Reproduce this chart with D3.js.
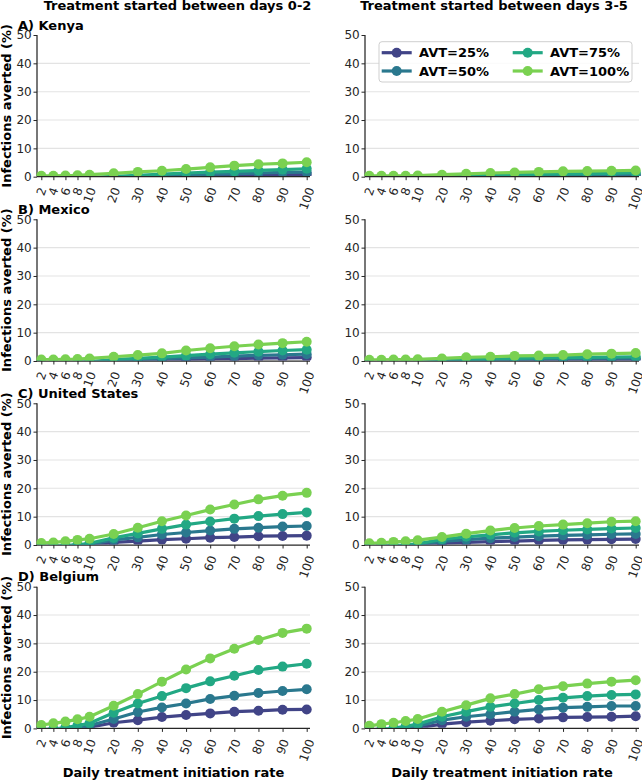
<!DOCTYPE html>
<html><head><meta charset="utf-8">
<script src="https://cdn.jsdelivr.net/npm/d3@7"></script>
<style>body{margin:0;background:#fff} text{font-family:"DejaVu Sans",sans-serif}</style>
</head><body><svg id="c" width="642" height="780"></svg>
<script>
const rates = [2,4,6,8,10,20,30,40,50,60,70,80,90,100];
const avtLabels = ["AVT=25%","AVT=50%","AVT=75%","AVT=100%"];
const avtColors = ["#414487","#2a788e","#22a884","#7ad151"];
const countryLabels = ["A) Kenya","B) Mexico","C) United States","D) Belgium"];
const windowTitles = ["Treatment started between days 0-2","Treatment started between days 3-5"];
const yTickValues = [0,10,20,30,40,50];
const gridValues = [10,20,30,40];
const xLabel = "Daily treatment initiation rate";
const yLabel = "Infections averted (%)";

// each panel: [AVT=25%, AVT=50%, AVT=75%, AVT=100%]
const kenyaDays02 = [
  [-0.8,-0.8,-0.7,-0.7,-0.6,-0.2,0.0,0.2,0.3,0.4,0.5,0.6,0.7,0.8],
  [-0.7,-0.7,-0.6,-0.6,-0.5,-0.1,0.2,0.5,0.7,0.9,1.1,1.3,1.5,1.6],
  [-0.6,-0.6,-0.5,-0.4,-0.3,0.1,0.5,0.9,1.3,1.6,1.9,2.2,2.5,2.8],
  [0.3,0.3,0.4,0.5,0.7,1.2,1.7,2.1,2.7,3.3,3.9,4.4,4.7,5.1]
];
const kenyaDays35 = [
  [-0.8,-0.8,-0.8,-0.7,-0.7,-0.4,-0.2,0.0,0.1,0.2,0.3,0.3,0.4,0.4],
  [-0.7,-0.7,-0.7,-0.6,-0.6,-0.3,0.0,0.2,0.4,0.5,0.6,0.7,0.8,0.9],
  [-0.6,-0.6,-0.6,-0.5,-0.5,-0.1,0.2,0.5,0.7,0.9,1.0,1.1,1.2,1.4],
  [0.3,0.3,0.3,0.3,0.4,0.7,1.0,1.3,1.5,1.7,1.9,2.0,2.1,2.2]
];
const mexicoDays02 = [
  [-0.8,-0.8,-0.7,-0.7,-0.6,-0.1,0.2,0.4,0.5,0.7,0.8,1.0,1.1,1.2],
  [-0.7,-0.7,-0.6,-0.6,-0.5,0.1,0.5,0.8,1.1,1.4,1.7,2.0,2.2,2.4],
  [-0.6,-0.6,-0.5,-0.4,-0.2,0.5,0.9,1.4,1.9,2.4,2.9,3.3,3.7,4.0],
  [0.5,0.5,0.6,0.7,0.9,1.5,2.1,2.7,3.7,4.5,5.2,5.8,6.3,6.8]
];
const mexicoDays35 = [
  [-0.8,-0.8,-0.8,-0.7,-0.7,-0.3,-0.1,0.1,0.2,0.3,0.3,0.4,0.5,0.5],
  [-0.7,-0.7,-0.7,-0.6,-0.6,-0.2,0.1,0.4,0.5,0.7,0.8,0.9,1.0,1.0],
  [-0.6,-0.6,-0.6,-0.5,-0.4,0.0,0.4,0.7,0.9,1.1,1.2,1.3,1.4,1.5],
  [0.4,0.4,0.5,0.5,0.6,0.9,1.3,1.5,1.8,1.9,2.1,2.4,2.6,2.8]
];
const usDays02 = [
  [-0.7,-0.6,-0.5,-0.4,-0.2,0.9,1.4,1.9,2.2,2.6,2.8,3.1,3.2,3.3],
  [-0.6,-0.5,-0.4,-0.2,0.2,1.8,2.7,3.7,4.4,5.1,5.7,6.1,6.5,6.7],
  [-0.5,-0.4,-0.2,0.1,0.6,2.5,4.1,5.7,7.2,8.3,9.3,10.2,10.9,11.5],
  [0.7,0.9,1.3,1.8,2.2,3.9,6.1,8.4,10.4,12.5,14.3,16.1,17.4,18.4]
];
const usDays35 = [
  [-0.7,-0.6,-0.5,-0.4,-0.2,0.6,0.9,1.2,1.4,1.6,1.8,1.9,2.0,2.1],
  [-0.6,-0.5,-0.4,-0.2,0.1,1.3,1.9,2.4,2.8,3.1,3.4,3.6,3.8,3.9],
  [-0.5,-0.4,-0.2,0.0,0.4,2.0,2.9,3.6,4.3,4.8,5.2,5.5,5.8,6.0],
  [0.6,0.8,1.1,1.3,1.7,2.8,4.0,5.1,6.0,6.7,7.2,7.7,8.2,8.4]
];
const belgiumDays02 = [
  [-0.7,-0.5,-0.3,0.0,0.4,2.0,2.9,4.0,4.7,5.3,5.9,6.2,6.6,6.7],
  [-0.6,-0.4,-0.1,0.4,1.0,3.3,5.8,7.4,8.8,10.4,11.5,12.5,13.2,13.8],
  [-0.5,-0.2,0.3,1.0,1.8,5.5,8.8,11.4,14.2,16.6,18.6,20.6,21.8,22.8],
  [1.2,1.8,2.4,3.2,4.1,8.0,12.1,16.5,20.8,24.7,28.1,31.2,33.7,35.2]
];
const belgiumDays35 = [
  [-0.7,-0.6,-0.4,-0.2,0.2,1.5,2.2,2.7,3.2,3.5,3.9,4.0,4.1,4.3],
  [-0.6,-0.4,-0.2,0.2,0.8,2.9,4.1,5.0,5.9,6.7,7.3,7.6,7.9,7.9],
  [-0.5,-0.3,0.1,0.7,1.5,4.1,5.9,7.6,8.8,10.0,10.8,11.4,11.8,12.0],
  [0.9,1.5,2.0,2.6,3.3,5.9,8.2,10.6,12.1,13.8,14.9,15.8,16.5,17.0]
];
const panelData = [
  [kenyaDays02, kenyaDays35],
  [mexicoDays02, mexicoDays35],
  [usDays02, usDays35],
  [belgiumDays02, belgiumDays35]
];

// layout
const cols = [{left:37, right:310, titleX:177.5}, {left:365, right:639, titleX:494}];
const rowTops = [35, 219.3, 403.3, 586.7];
const ph = 141.7;
const ink = "#262626";

const svg = d3.select("#c");
const defs = svg.append("defs");

windowTitles.forEach((t,i) => {
  svg.append("text").attr("x", cols[i].titleX).attr("y", 10.3)
    .attr("text-anchor","middle").attr("font-size",13).attr("font-weight","bold")
    .attr("fill","#000").text(t);
});

rowTops.forEach((top, r) => {
  cols.forEach((col, c) => {
    const left = col.left, right = col.right;
    const x0 = left + 4.3, x1 = right - 3.3;
    const u = (x1 - x0) / 11;
    const x = d3.scaleLinear().domain([2,10,100]).range([x0, x0 + 2*u, x1]);
    const y = d3.scaleLinear().domain([0,50]).range([top + ph, top]);
    const g = svg.append("g");

    // grid
    g.selectAll("line.grid").data(gridValues).join("line")
      .attr("x1", left).attr("x2", right)
      .attr("y1", d => y(d)).attr("y2", d => y(d))
      .attr("stroke", "#e3e3e3").attr("stroke-width", 1.1);

    // y axis
    const ya = g.append("g").attr("transform", `translate(${left},0)`)
      .call(d3.axisLeft(y).tickValues(yTickValues).tickSize(3.5).tickSizeOuter(0).tickPadding(1.8));
    ya.select(".domain").remove();
    ya.selectAll(".tick line").attr("stroke", ink).attr("stroke-width", 1);
    ya.selectAll(".tick text").attr("font-size", 12).attr("fill", ink)
      .style("font-family", '"DejaVu Sans",sans-serif');

    // x axis
    const xa = g.append("g").attr("transform", `translate(0,${top + ph})`)
      .call(d3.axisBottom(x).tickValues(rates).tickFormat(d3.format("d")).tickSize(3.5).tickSizeOuter(0));
    xa.select(".domain").remove();
    xa.selectAll(".tick line").attr("stroke", ink).attr("stroke-width", 1);
    const h = 8.75;
    xa.selectAll(".tick text").attr("font-size", 12).attr("fill", ink)
      .style("font-family", '"DejaVu Sans",sans-serif')
      .attr("y", null).attr("dy", null).attr("text-anchor", "end")
      .attr("transform", function() {
        const L = this.getComputedTextLength();
        const ax = 0.17 * L + 0.47 * h - 0.6;
        return `translate(${ax},12.6) rotate(-70)`;
      });

    // spines
    g.append("line").attr("x1", left).attr("x2", left).attr("y1", top).attr("y2", top + ph)
      .attr("stroke", ink).attr("stroke-width", 1.25);
    g.append("line").attr("x1", left).attr("x2", right).attr("y1", top + ph).attr("y2", top + ph)
      .attr("stroke", ink).attr("stroke-width", 1.25);

    // clip
    const cid = `clip-${r}-${c}`;
    defs.append("clipPath").attr("id", cid).append("rect")
      .attr("x", left - 20).attr("y", top - 20).attr("width", right - left + 40).attr("height", ph + 20 - 0.6);

    const series = panelData[r][c];
    const plot = g.append("g").attr("clip-path", `url(#${cid})`);
    const line = d3.line().x((d,i) => x(rates[i])).y(d => y(d));
    series.forEach((vals, s) => {
      const sg = plot.append("g");
      sg.append("path").attr("d", line(vals)).attr("fill","none")
        .attr("stroke", avtColors[s]).attr("stroke-width", 3.2).attr("stroke-linejoin","round");
      sg.selectAll("circle").data(vals).join("circle")
        .attr("cx", (d,i) => x(rates[i])).attr("cy", d => y(d)).attr("r", 5)
        .attr("fill", avtColors[s]);
    });

    // panel label
    if (c === 0) {
      svg.append("text").attr("x", 18).attr("y", top - 5.5)
        .attr("font-size", 13).attr("font-weight", "bold").attr("fill", "#000")
        .text(countryLabels[r]);
      svg.append("text")
        .attr("transform", `translate(11,${top + ph/2}) rotate(-90)`)
        .attr("text-anchor", "middle").attr("font-size", 13).attr("font-weight", "bold")
        .attr("fill", "#000").text(yLabel);
    }
    if (r === rowTops.length - 1) {
      svg.append("text").attr("x", (left + right)/2).attr("y", 776.5)
        .attr("text-anchor","middle").attr("font-size", 13).attr("font-weight","bold")
        .attr("fill","#000").text(xLabel);
    }

    // legend
    if (r === 0 && c === 1) {
      const lx = left + 14, ly = top + 6.7;
      const lg = svg.append("g");
      lg.append("rect").attr("x", lx).attr("y", ly).attr("width", 253).attr("height", 40.3)
        .attr("rx", 3).attr("fill", "#fff").attr("fill-opacity", 0.85)
        .attr("stroke", "#cfcfcf").attr("stroke-width", 1);
      avtLabels.forEach((lab, s) => {
        const colI = Math.floor(s / 2), rowI = s % 2;
        const ex = lx + colI * 131, ey = ly + 11 + rowI * 18.3;
        lg.append("line").attr("x1", ex + 2.7).attr("x2", ex + 32.7).attr("y1", ey).attr("y2", ey)
          .attr("stroke", avtColors[s]).attr("stroke-width", 3.2);
        lg.append("circle").attr("cx", ex + 17.7).attr("cy", ey).attr("r", 5).attr("fill", avtColors[s]);
        lg.append("text").attr("x", ex + 40).attr("y", ey).attr("dy", "0.36em")
          .attr("font-size", 13).attr("font-weight", "bold").attr("fill", "#000").text(lab);
      });
    }
  });
});
</script>
</body></html>
